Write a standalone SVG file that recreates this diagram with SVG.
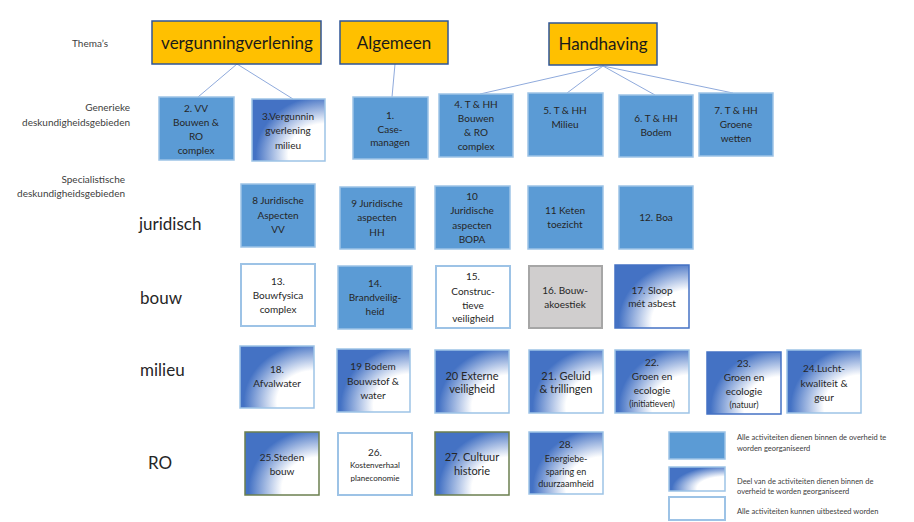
<svg xmlns="http://www.w3.org/2000/svg" width="914" height="522" viewBox="0 0 914 522">
<defs>
<radialGradient id="g" cx="1" cy="0.9" r="1" fx="1" fy="0.9">
<stop offset="0" stop-color="#ffffff"/>
<stop offset="0.5" stop-color="#ffffff"/>
<stop offset="0.95" stop-color="#4472c4"/>
<stop offset="1" stop-color="#4472c4"/>
</radialGradient>
</defs>
<style>
.theme{fill:#ffc000;stroke:#2f5597;stroke-width:1.5}
.solid{fill:#5b9bd5;stroke:#9dc3e6;stroke-width:1.5}
.grad{fill:url(#g);stroke:#9dc3e6;stroke-width:1.5}
.white{fill:#ffffff;stroke:#9dc3e6;stroke-width:2}
.grey{fill:#d0cece;stroke:#a6a6a6;stroke-width:2}
.t{font-family:Lato,"Liberation Sans",sans-serif;font-size:10px;fill:#262626;text-anchor:middle}
.tt{font-family:Lato,"Liberation Sans",sans-serif;font-size:17px;fill:#1a1a1a;text-anchor:middle}
.lab{font-family:Lato,"Liberation Sans",sans-serif;font-size:10px;fill:#404040;text-anchor:end}
.row{font-family:Lato,"Liberation Sans",sans-serif;font-size:17px;fill:#262626}
.leg{font-family:Lato,"Liberation Sans",sans-serif;font-size:7.5px;fill:#404040}
.con{stroke:#8faadc;stroke-width:1;fill:none}
</style>
<rect width="914" height="522" fill="#ffffff"/>

<g id="labels">
<text class="lab" x="108" y="47">Thema’s</text>
<text class="lab" x="130" y="111">Generieke</text>
<text class="lab" x="130" y="126">deskundigheidsgebieden</text>
<text class="lab" x="125" y="183">Specialistische</text>
<text class="lab" x="125" y="197">deskundigheidsgebieden</text>
<text class="row" x="139" y="230">juridisch</text>
<text class="row" x="140" y="304">bouw</text>
<text class="row" x="140" y="376">milieu</text>
<text class="row" x="148" y="469">RO</text>
</g>

<g id="connectors">
<line class="con" x1="237" y1="64" x2="198" y2="97"/>
<line class="con" x1="237" y1="64" x2="293" y2="99"/>
<line class="con" x1="395" y1="64" x2="392" y2="97"/>
<line class="con" x1="603" y1="66" x2="480" y2="94"/>
<line class="con" x1="603" y1="66" x2="567" y2="93"/>
<line class="con" x1="603" y1="66" x2="655" y2="95"/>
<line class="con" x1="603" y1="66" x2="733" y2="93"/>
</g>

<g id="theme-vergunningverlening"><rect class="theme" x="152" y="21" width="169" height="43"/><text class="tt" x="237" y="49">vergunningverlening</text></g>
<g id="theme-algemeen"><rect class="theme" x="340" y="21" width="108" height="43"/><text class="tt" x="394" y="49">Algemeen</text></g>
<g id="theme-handhaving"><rect class="theme" x="549" y="23" width="108" height="42"/><text class="tt" x="603" y="50">Handhaving</text></g>

<g id="n2"><rect class="solid" x="159" y="97" width="75" height="63"/><text class="t"><tspan x="196" y="112">2. VV</tspan><tspan x="196" y="126">Bouwen &amp;</tspan><tspan x="196" y="140">RO</tspan><tspan x="196" y="154">complex</tspan></text></g>
<g id="n3"><rect class="grad" x="252" y="99" width="73" height="62"/><text class="t"><tspan x="288" y="120">3.Vergunnin</tspan><tspan x="288" y="134">gverlening</tspan><tspan x="288" y="149">milieu</tspan></text></g>
<g id="n1"><rect class="solid" x="353" y="97" width="75" height="62"/><text class="t"><tspan x="390" y="119">1.</tspan><tspan x="390" y="133">Case-</tspan><tspan x="390" y="146">managen</tspan></text></g>
<g id="n4"><rect class="solid" x="439" y="94" width="74" height="63"/><text class="t"><tspan x="476" y="108">4. T &amp; HH</tspan><tspan x="476" y="122">Bouwen</tspan><tspan x="476" y="136">&amp; RO</tspan><tspan x="476" y="150">complex</tspan></text></g>
<g id="n5"><rect class="solid" x="528" y="93" width="75" height="63"/><text class="t"><tspan x="565" y="114">5. T &amp; HH</tspan><tspan x="565" y="128">Milieu</tspan></text></g>
<g id="n6"><rect class="solid" x="619" y="95" width="74" height="62"/><text class="t"><tspan x="656" y="122">6. T &amp; HH</tspan><tspan x="656" y="136">Bodem</tspan></text></g>
<g id="n7"><rect class="solid" x="699" y="93" width="74" height="63"/><text class="t"><tspan x="736" y="114">7. T &amp; HH</tspan><tspan x="736" y="128">Groene</tspan><tspan x="736" y="142">wetten</tspan></text></g>

<g id="n8"><rect class="solid" x="241" y="184" width="74" height="63"/><text class="t"><tspan x="278" y="204">8 Juridische</tspan><tspan x="278" y="219">Aspecten</tspan><tspan x="278" y="233">VV</tspan></text></g>
<g id="n9"><rect class="solid" x="340" y="187" width="75" height="62"/><text class="t"><tspan x="377" y="207">9 Juridische</tspan><tspan x="377" y="221">aspecten</tspan><tspan x="377" y="236">HH</tspan></text></g>
<g id="n10"><rect class="solid" x="435" y="186" width="75" height="63"/><text class="t"><tspan x="472" y="200">10</tspan><tspan x="472" y="214">Juridische</tspan><tspan x="472" y="229">aspecten</tspan><tspan x="472" y="243">BOPA</tspan></text></g>
<g id="n11"><rect class="solid" x="528" y="186" width="75" height="63"/><text class="t"><tspan x="565" y="214">11 Keten</tspan><tspan x="565" y="228">toezicht</tspan></text></g>
<g id="n12"><rect class="solid" x="619" y="186" width="74" height="63"/><text class="t"><tspan x="656" y="221">12. Boa</tspan></text></g>

<g id="n13"><rect class="white" x="241" y="264" width="74" height="62"/><text class="t"><tspan x="278" y="285">13.</tspan><tspan x="278" y="299">Bouwfysica</tspan><tspan x="278" y="313">complex</tspan></text></g>
<g id="n14"><rect class="solid" x="338" y="266" width="74" height="63"/><text class="t"><tspan x="375" y="287">14.</tspan><tspan x="375" y="301">Brandveilig-</tspan><tspan x="375" y="315">heid</tspan></text></g>
<g id="n15"><rect class="white" x="436" y="266" width="74" height="62"/><text class="t"><tspan x="473" y="280">15.</tspan><tspan x="473" y="295">Construc-</tspan><tspan x="473" y="309">tieve</tspan><tspan x="473" y="322">veiligheid</tspan></text></g>
<g id="n16"><rect class="grey" x="529" y="266" width="73" height="62"/><text class="t"><tspan x="565" y="294">16. Bouw-</tspan><tspan x="565" y="308">akoestiek</tspan></text></g>
<g id="n17"><rect class="grad" style="stroke:#4472c4" x="615" y="265" width="74" height="63"/><text class="t"><tspan x="652" y="294">17. Sloop</tspan><tspan x="652" y="307">mét asbest</tspan></text></g>

<g id="n18"><rect class="grad" x="240" y="346" width="74" height="62"/><text class="t"><tspan x="277" y="373">18.</tspan><tspan x="277" y="387">Afvalwater</tspan></text></g>
<g id="n19"><rect class="grad" x="337" y="349" width="73" height="63"/><text class="t"><tspan x="373" y="370">19 Bodem</tspan><tspan x="373" y="385">Bouwstof &amp;</tspan><tspan x="373" y="399">water</tspan></text></g>
<g id="n20"><rect class="grad" x="435" y="350" width="74" height="63"/><text class="t" style="font-size:11px"><tspan x="472" y="380">20 Externe</tspan><tspan x="472" y="393">veiligheid</tspan></text></g>
<g id="n21"><rect class="grad" x="529" y="350" width="74" height="63"/><text class="t" style="font-size:11px"><tspan x="566" y="380">21. Geluid</tspan><tspan x="566" y="393">&amp; trillingen</tspan></text></g>
<g id="n22"><rect class="grad" x="615" y="350" width="74" height="63"/><text class="t"><tspan x="652" y="366">22.</tspan><tspan x="652" y="380">Groen en</tspan><tspan x="652" y="394">ecologie</tspan><tspan x="652" y="407" style="font-size:8.5px">(initiatieven)</tspan></text></g>
<g id="n23"><rect class="grad" style="stroke:#4472c4" x="707" y="352" width="74" height="62"/><text class="t"><tspan x="744" y="367">23.</tspan><tspan x="744" y="381">Groen en</tspan><tspan x="744" y="395">ecologie</tspan><tspan x="744" y="408" style="font-size:8.5px">(natuur)</tspan></text></g>
<g id="n24"><rect class="grad" x="787" y="350" width="74" height="63"/><text class="t"><tspan x="824" y="372">24.Lucht-</tspan><tspan x="824" y="387">kwaliteit &amp;</tspan><tspan x="824" y="401">geur</tspan></text></g>

<g id="n25"><rect class="grad" style="stroke:#6b7f4f" x="245" y="432" width="74" height="63"/><text class="t"><tspan x="282" y="461">25.Steden</tspan><tspan x="282" y="475">bouw</tspan></text></g>
<g id="n26"><rect class="white" x="338" y="433" width="74" height="62"/><text class="t"><tspan x="375" y="456">26.</tspan><tspan x="375" y="468" style="font-size:8px">Kostenverhaal</tspan><tspan x="375" y="481" style="font-size:8px">planeconomie</tspan></text></g>
<g id="n27"><rect class="grad" style="stroke:#6b7f4f" x="435" y="432" width="74" height="63"/><text class="t" style="font-size:11px"><tspan x="472" y="461">27. Cultuur</tspan><tspan x="472" y="475">historie</tspan></text></g>
<g id="n28"><rect class="grad" x="529" y="432" width="74" height="62"/><text class="t"><tspan x="566" y="448">28.</tspan><tspan x="566" y="462" style="font-size:9px">Energiebe-</tspan><tspan x="566" y="475" style="font-size:9px">sparing en</tspan><tspan x="566" y="487" style="font-size:9px">duurzaamheid</tspan></text></g>

<g id="legend">
<rect class="solid" x="669" y="432" width="56" height="27"/>
<rect class="grad" x="669" y="467" width="56" height="24"/>
<rect class="white" x="669" y="497" width="56" height="23"/>
<text class="leg"><tspan x="737" y="440">Alle activiteiten dienen binnen de overheid te</tspan><tspan x="737" y="451">worden georganiseerd</tspan></text>
<text class="leg"><tspan x="737" y="484">Deel van de activiteiten dienen binnen de</tspan><tspan x="737" y="494">overheid te worden georganiseerd</tspan></text>
<text class="leg" x="737" y="514">Alle activiteiten kunnen uitbesteed worden</text>
</g>
</svg>
